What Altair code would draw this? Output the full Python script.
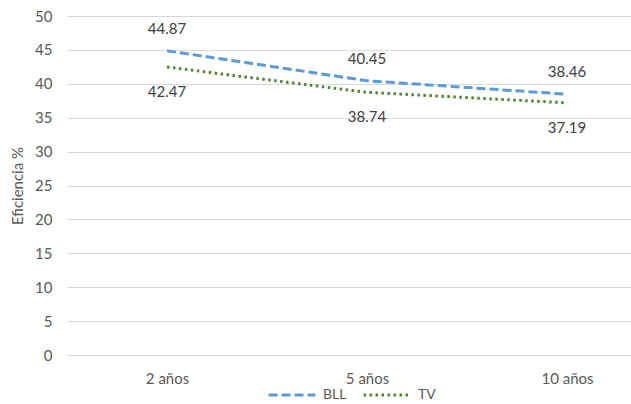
import altair as alt
import pandas as pd

categories = ["2 años", "5 años", "10 años"]
series_names = ["BLL", "TV"]
bll_values = [44.87, 40.45, 38.46]
tv_values = [42.47, 38.74, 37.19]
y_ticks = [0, 5, 10, 15, 20, 25, 30, 35, 40, 45, 50]

rows = []
for cat, b, t in zip(categories, bll_values, tv_values):
    rows.append({"periodo": cat, "serie": "BLL", "valor": b})
    rows.append({"periodo": cat, "serie": "TV", "valor": t})
df = pd.DataFrame(rows)

FONT = "Lato"
GREY = "#595959"
FS = 15

x_enc = alt.X(
    "periodo:O",
    sort=categories,
    scale=alt.Scale(type="point", padding=0.41, align=0.61),
    axis=alt.Axis(
        title=None, labelAngle=0, domain=False, ticks=False, grid=False,
        labelFontSize=FS, labelColor=GREY, labelFont=FONT, labelPadding=16,
    ),
)
y_enc = alt.Y(
    "valor:Q",
    scale=alt.Scale(domain=[0, 50], nice=False),
    axis=alt.Axis(
        title="Eficiencia %", values=y_ticks, domain=False, ticks=False,
        gridColor="#d9d9d9", gridWidth=1.2,
        labelFontSize=FS, labelColor=GREY, labelFont=FONT, labelPadding=15,
        titleFontSize=FS, titleColor=GREY, titleFont=FONT, titleFontWeight="normal",
        titlePadding=9,
    ),
)

legend_cfg = dict(
    title=None, orient="none", direction="horizontal",
    legendX=200, legendY=354, symbolType="stroke", symbolSize=2200,
    symbolStrokeWidth=3, labelFontSize=14, labelColor=GREY, labelFont=FONT,
    columnPadding=10, labelOffset=6,
)

lines = alt.Chart(df).mark_line(strokeWidth=3).encode(
    x=x_enc,
    y=y_enc,
    color=alt.Color(
        "serie:N",
        scale=alt.Scale(domain=series_names, range=["#5B9BD5", "#548235"]),
        legend=alt.Legend(**legend_cfg),
    ),
    strokeDash=alt.StrokeDash(
        "serie:N",
        scale=alt.Scale(domain=series_names, range=[[9, 4], [2.5, 3.5]]),
        legend=alt.Legend(**legend_cfg),
    ),
)

text_above = alt.Chart(df).transform_filter(alt.datum.serie == "BLL").mark_text(
    dy=-22, fontSize=FS, color="#404040", font=FONT
).encode(x=x_enc, y=y_enc, text=alt.Text("valor:Q", format=".2f"))

text_below = alt.Chart(df).transform_filter(alt.datum.serie == "TV").mark_text(
    dy=25, fontSize=FS, color="#404040", font=FONT
).encode(x=x_enc, y=y_enc, text=alt.Text("valor:Q", format=".2f"))

chart = (
    alt.layer(lines, text_above, text_below)
    .properties(
        width=564,
        height=339,
        autosize=alt.AutoSizeParams(type="none"),
        padding={"left": 67, "top": 16, "right": 0, "bottom": 49},
        background="white",
    )
    .configure_view(stroke=None)
)

chart.save("out.html", embed_options={"renderer": "svg", "actions": False})
